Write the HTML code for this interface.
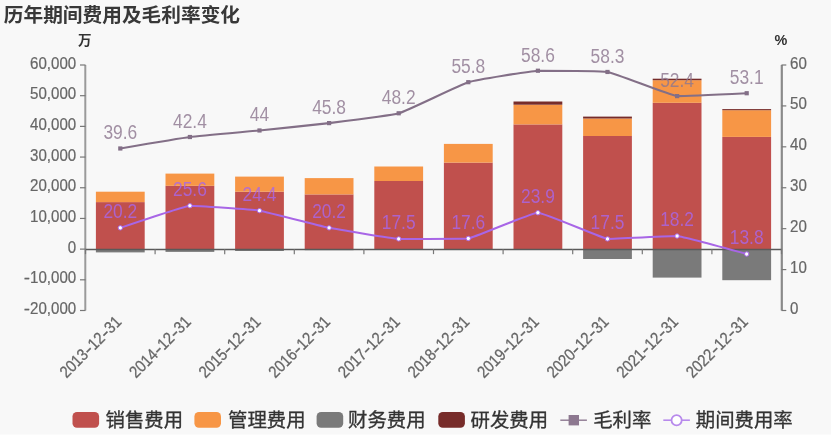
<!DOCTYPE html>
<html lang="zh"><head><meta charset="utf-8"><title>历年期间费用及毛利率变化</title>
<style>html,body{margin:0;padding:0;background:#fff;overflow:hidden}svg{display:block}#all{filter:blur(0.65px)}</style></head>
<body>
<svg width="832" height="438" viewBox="0 0 832 438" font-family="Liberation Sans, Noto Sans CJK SC, sans-serif">
<rect width="832" height="438" fill="#fff"/>
<rect width="831" height="434.5" fill="#f8f8f8"/>
<g id="all">
<text x="3.8" y="22.2" font-size="19.7" font-weight="bold" fill="#383838">历年期间费用及毛利率变化</text>
<text x="84.8" y="45" font-size="13.5" font-weight="bold" fill="#333" text-anchor="middle">万</text>
<text x="781" y="44.5" font-size="14.4" font-weight="bold" fill="#333" text-anchor="middle">%</text>
<rect x="95.90" y="202.10" width="48.8" height="47.03" fill="#c0504d"/>
<rect x="95.90" y="191.70" width="48.8" height="10.40" fill="#f79646"/>
<rect x="95.90" y="249.12" width="48.8" height="3.28" fill="#7a7a7a"/>
<rect x="165.50" y="185.80" width="48.8" height="63.32" fill="#c0504d"/>
<rect x="165.50" y="173.60" width="48.8" height="12.20" fill="#f79646"/>
<rect x="165.50" y="249.12" width="48.8" height="2.78" fill="#7a7a7a"/>
<rect x="235.10" y="191.70" width="48.8" height="57.43" fill="#c0504d"/>
<rect x="235.10" y="176.60" width="48.8" height="15.10" fill="#f79646"/>
<rect x="235.10" y="249.12" width="48.8" height="1.88" fill="#7a7a7a"/>
<rect x="304.70" y="194.40" width="48.8" height="54.72" fill="#c0504d"/>
<rect x="304.70" y="178.10" width="48.8" height="16.30" fill="#f79646"/>
<rect x="304.70" y="249.12" width="48.8" height="1.07" fill="#7a7a7a"/>
<rect x="374.30" y="181.00" width="48.8" height="68.12" fill="#c0504d"/>
<rect x="374.30" y="166.50" width="48.8" height="14.50" fill="#f79646"/>
<rect x="374.30" y="249.12" width="48.8" height="0.88" fill="#7a7a7a"/>
<rect x="443.90" y="162.60" width="48.8" height="86.53" fill="#c0504d"/>
<rect x="443.90" y="143.90" width="48.8" height="18.70" fill="#f79646"/>
<rect x="443.90" y="249.12" width="48.8" height="0.68" fill="#7a7a7a"/>
<rect x="513.50" y="124.40" width="48.8" height="124.72" fill="#c0504d"/>
<rect x="513.50" y="104.70" width="48.8" height="19.70" fill="#f79646"/>
<rect x="513.50" y="101.50" width="48.8" height="3.20" fill="#772c2a"/>
<rect x="513.50" y="249.12" width="48.8" height="0.47" fill="#7a7a7a"/>
<rect x="583.10" y="136.00" width="48.8" height="113.12" fill="#c0504d"/>
<rect x="583.10" y="118.50" width="48.8" height="17.50" fill="#f79646"/>
<rect x="583.10" y="116.60" width="48.8" height="1.90" fill="#772c2a"/>
<rect x="583.10" y="249.12" width="48.8" height="9.88" fill="#7a7a7a"/>
<rect x="652.70" y="102.80" width="48.8" height="146.32" fill="#c0504d"/>
<rect x="652.70" y="80.20" width="48.8" height="22.60" fill="#f79646"/>
<rect x="652.70" y="78.70" width="48.8" height="1.50" fill="#772c2a"/>
<rect x="652.70" y="249.12" width="48.8" height="28.48" fill="#7a7a7a"/>
<rect x="722.30" y="136.90" width="48.8" height="112.22" fill="#c0504d"/>
<rect x="722.30" y="110.20" width="48.8" height="26.70" fill="#f79646"/>
<rect x="722.30" y="109.10" width="48.8" height="1.10" fill="#772c2a"/>
<rect x="722.30" y="249.12" width="48.8" height="31.07" fill="#7a7a7a"/>
<g stroke="#777" stroke-width="1.2" fill="none">
<path d="M85.3 65.0V310.5" stroke="#9a9a9a" stroke-width="2"/>
<path d="M781.8 65.0V310.5" stroke="#8a8a8a" stroke-width="2.2"/>
<path d="M85.5 249.425H781.5" stroke="#5a5a5a" stroke-width="1.5"/>
<path d="M80.0 65.00H85.5"/>
<path d="M80.0 95.69H85.5"/>
<path d="M80.0 126.38H85.5"/>
<path d="M80.0 157.06H85.5"/>
<path d="M80.0 187.75H85.5"/>
<path d="M80.0 218.44H85.5"/>
<path d="M80.0 249.12H85.5"/>
<path d="M80.0 279.81H85.5"/>
<path d="M80.0 310.50H85.5"/>
<path d="M781.5 65.00h4.8"/>
<path d="M781.5 105.92h4.8"/>
<path d="M781.5 146.83h4.8"/>
<path d="M781.5 187.75h4.8"/>
<path d="M781.5 228.67h4.8"/>
<path d="M781.5 269.58h4.8"/>
<path d="M781.5 310.50h4.8"/>
<path d="M85.50 249.125v5"/>
<path d="M155.10 249.125v5"/>
<path d="M224.70 249.125v5"/>
<path d="M294.30 249.125v5"/>
<path d="M363.90 249.125v5"/>
<path d="M433.50 249.125v5"/>
<path d="M503.10 249.125v5"/>
<path d="M572.70 249.125v5"/>
<path d="M642.30 249.125v5"/>
<path d="M711.90 249.125v5"/>
<path d="M781.50 249.125v5"/>
</g>
<g font-size="15.1" fill="#666" stroke="#666" stroke-width="0.2">
<text transform="translate(76.2 68.50) scale(1,1.14)" text-anchor="end">60,000</text>
<text transform="translate(76.2 99.19) scale(1,1.14)" text-anchor="end">50,000</text>
<text transform="translate(76.2 129.88) scale(1,1.14)" text-anchor="end">40,000</text>
<text transform="translate(76.2 160.56) scale(1,1.14)" text-anchor="end">30,000</text>
<text transform="translate(76.2 191.25) scale(1,1.14)" text-anchor="end">20,000</text>
<text transform="translate(76.2 221.94) scale(1,1.14)" text-anchor="end">10,000</text>
<text transform="translate(76.2 252.62) scale(1,1.14)" text-anchor="end">0</text>
<text transform="translate(76.2 283.31) scale(1,1.14)" text-anchor="end"><tspan textLength="6.2" lengthAdjust="spacingAndGlyphs">-</tspan>10,000</text>
<text transform="translate(76.2 314.00) scale(1,1.14)" text-anchor="end"><tspan textLength="6.2" lengthAdjust="spacingAndGlyphs">-</tspan>20,000</text>
<text transform="translate(790.0 68.50) scale(1,1.14)">60</text>
<text transform="translate(790.0 109.42) scale(1,1.14)">50</text>
<text transform="translate(790.0 150.33) scale(1,1.14)">40</text>
<text transform="translate(790.0 191.25) scale(1,1.14)">30</text>
<text transform="translate(790.0 232.17) scale(1,1.14)">20</text>
<text transform="translate(790.0 273.08) scale(1,1.14)">10</text>
<text transform="translate(790.0 314.00) scale(1,1.14)">0</text>
<text transform="translate(118.60 318.80) rotate(-45) scale(1,1.14)" text-anchor="end" y="4.8" font-size="14.6" stroke="#666" stroke-width="0.25">2013<tspan textLength="7.2" lengthAdjust="spacingAndGlyphs">-</tspan>12<tspan textLength="7.2" lengthAdjust="spacingAndGlyphs">-</tspan>31</text>
<text transform="translate(188.20 318.80) rotate(-45) scale(1,1.14)" text-anchor="end" y="4.8" font-size="14.6" stroke="#666" stroke-width="0.25">2014<tspan textLength="7.2" lengthAdjust="spacingAndGlyphs">-</tspan>12<tspan textLength="7.2" lengthAdjust="spacingAndGlyphs">-</tspan>31</text>
<text transform="translate(257.80 318.80) rotate(-45) scale(1,1.14)" text-anchor="end" y="4.8" font-size="14.6" stroke="#666" stroke-width="0.25">2015<tspan textLength="7.2" lengthAdjust="spacingAndGlyphs">-</tspan>12<tspan textLength="7.2" lengthAdjust="spacingAndGlyphs">-</tspan>31</text>
<text transform="translate(327.40 318.80) rotate(-45) scale(1,1.14)" text-anchor="end" y="4.8" font-size="14.6" stroke="#666" stroke-width="0.25">2016<tspan textLength="7.2" lengthAdjust="spacingAndGlyphs">-</tspan>12<tspan textLength="7.2" lengthAdjust="spacingAndGlyphs">-</tspan>31</text>
<text transform="translate(397.00 318.80) rotate(-45) scale(1,1.14)" text-anchor="end" y="4.8" font-size="14.6" stroke="#666" stroke-width="0.25">2017<tspan textLength="7.2" lengthAdjust="spacingAndGlyphs">-</tspan>12<tspan textLength="7.2" lengthAdjust="spacingAndGlyphs">-</tspan>31</text>
<text transform="translate(466.60 318.80) rotate(-45) scale(1,1.14)" text-anchor="end" y="4.8" font-size="14.6" stroke="#666" stroke-width="0.25">2018<tspan textLength="7.2" lengthAdjust="spacingAndGlyphs">-</tspan>12<tspan textLength="7.2" lengthAdjust="spacingAndGlyphs">-</tspan>31</text>
<text transform="translate(536.20 318.80) rotate(-45) scale(1,1.14)" text-anchor="end" y="4.8" font-size="14.6" stroke="#666" stroke-width="0.25">2019<tspan textLength="7.2" lengthAdjust="spacingAndGlyphs">-</tspan>12<tspan textLength="7.2" lengthAdjust="spacingAndGlyphs">-</tspan>31</text>
<text transform="translate(605.80 318.80) rotate(-45) scale(1,1.14)" text-anchor="end" y="4.8" font-size="14.6" stroke="#666" stroke-width="0.25">2020<tspan textLength="7.2" lengthAdjust="spacingAndGlyphs">-</tspan>12<tspan textLength="7.2" lengthAdjust="spacingAndGlyphs">-</tspan>31</text>
<text transform="translate(675.40 318.80) rotate(-45) scale(1,1.14)" text-anchor="end" y="4.8" font-size="14.6" stroke="#666" stroke-width="0.25">2021<tspan textLength="7.2" lengthAdjust="spacingAndGlyphs">-</tspan>12<tspan textLength="7.2" lengthAdjust="spacingAndGlyphs">-</tspan>31</text>
<text transform="translate(745.00 318.80) rotate(-45) scale(1,1.14)" text-anchor="end" y="4.8" font-size="14.6" stroke="#666" stroke-width="0.25">2022<tspan textLength="7.2" lengthAdjust="spacingAndGlyphs">-</tspan>12<tspan textLength="7.2" lengthAdjust="spacingAndGlyphs">-</tspan>31</text>
</g>
<path d="M120.30 148.47C120.30 148.47 181.51 138.10 189.90 137.01C198.21 135.94 251.15 131.30 259.50 130.47C267.86 129.63 320.77 124.13 329.10 123.10C337.47 122.07 390.69 115.64 398.70 113.28C407.39 110.73 459.62 84.84 468.30 82.19C476.33 79.73 529.49 71.35 537.90 70.73C546.20 70.73 599.38 70.73 607.50 71.96C616.09 73.52 668.51 94.78 677.10 96.10C685.22 96.10 746.70 93.23 746.70 93.23" fill="none" stroke="#836f87" stroke-width="2.2" stroke-linejoin="round"/><rect x="118.20" y="146.37" width="4.2" height="4.2" fill="#836f87"/><rect x="187.80" y="134.91" width="4.2" height="4.2" fill="#836f87"/><rect x="257.40" y="128.37" width="4.2" height="4.2" fill="#836f87"/><rect x="327.00" y="121.00" width="4.2" height="4.2" fill="#836f87"/><rect x="396.60" y="111.18" width="4.2" height="4.2" fill="#836f87"/><rect x="466.20" y="80.09" width="4.2" height="4.2" fill="#836f87"/><rect x="535.80" y="68.63" width="4.2" height="4.2" fill="#836f87"/><rect x="605.40" y="69.86" width="4.2" height="4.2" fill="#836f87"/><rect x="675.00" y="94.00" width="4.2" height="4.2" fill="#836f87"/><rect x="744.60" y="91.13" width="4.2" height="4.2" fill="#836f87"/>
<path d="M120.30 227.85C120.30 227.85 183.49 206.54 189.90 205.75C196.02 205.75 253.32 209.68 259.50 210.66C265.85 211.67 322.78 226.57 329.10 227.85C335.31 229.11 392.40 238.41 398.70 238.90C404.93 238.90 462.24 238.90 468.30 238.49C474.77 237.27 531.64 212.71 537.90 212.71C544.17 212.73 601.03 237.81 607.50 238.90C613.56 238.90 670.93 236.03 677.10 236.03C683.46 236.72 746.70 254.03 746.70 254.03" fill="none" stroke="#a866e6" stroke-width="2"/>
<circle cx="120.30" cy="227.85" r="2.2" fill="#fff" stroke="#a866e6" stroke-width="1"/>
<circle cx="189.90" cy="205.75" r="2.2" fill="#fff" stroke="#a866e6" stroke-width="1"/>
<circle cx="259.50" cy="210.66" r="2.2" fill="#fff" stroke="#a866e6" stroke-width="1"/>
<circle cx="329.10" cy="227.85" r="2.2" fill="#fff" stroke="#a866e6" stroke-width="1"/>
<circle cx="398.70" cy="238.90" r="2.2" fill="#fff" stroke="#a866e6" stroke-width="1"/>
<circle cx="468.30" cy="238.49" r="2.2" fill="#fff" stroke="#a866e6" stroke-width="1"/>
<circle cx="537.90" cy="212.71" r="2.2" fill="#fff" stroke="#a866e6" stroke-width="1"/>
<circle cx="607.50" cy="238.90" r="2.2" fill="#fff" stroke="#a866e6" stroke-width="1"/>
<circle cx="677.10" cy="236.03" r="2.2" fill="#fff" stroke="#a866e6" stroke-width="1"/>
<circle cx="746.70" cy="254.03" r="2.2" fill="#fff" stroke="#a866e6" stroke-width="1"/>
<g font-size="17.4" text-anchor="middle" fill-opacity="0.82">
<text transform="translate(120.30 139.47) scale(1,1.12)" fill="#8d7890">39.6</text>
<text transform="translate(189.90 128.01) scale(1,1.12)" fill="#8d7890">42.4</text>
<text transform="translate(259.50 121.47) scale(1,1.12)" fill="#8d7890">44</text>
<text transform="translate(329.10 114.10) scale(1,1.12)" fill="#8d7890">45.8</text>
<text transform="translate(398.70 104.28) scale(1,1.12)" fill="#8d7890">48.2</text>
<text transform="translate(468.30 73.19) scale(1,1.12)" fill="#8d7890">55.8</text>
<text transform="translate(537.90 61.73) scale(1,1.12)" fill="#8d7890">58.6</text>
<text transform="translate(607.50 62.96) scale(1,1.12)" fill="#8d7890">58.3</text>
<text transform="translate(677.10 87.10) scale(1,1.12)" fill="#8d7890">52.4</text>
<text transform="translate(746.70 84.23) scale(1,1.12)" fill="#8d7890">53.1</text>
<text transform="translate(120.30 218.05) scale(1,1.12)" fill="#a866e6">20.2</text>
<text transform="translate(189.90 195.95) scale(1,1.12)" fill="#a866e6">25.6</text>
<text transform="translate(259.50 200.86) scale(1,1.12)" fill="#a866e6">24.4</text>
<text transform="translate(329.10 218.05) scale(1,1.12)" fill="#a866e6">20.2</text>
<text transform="translate(398.70 229.10) scale(1,1.12)" fill="#a866e6">17.5</text>
<text transform="translate(468.30 228.69) scale(1,1.12)" fill="#a866e6">17.6</text>
<text transform="translate(537.90 202.91) scale(1,1.12)" fill="#a866e6">23.9</text>
<text transform="translate(607.50 229.10) scale(1,1.12)" fill="#a866e6">17.5</text>
<text transform="translate(677.10 226.23) scale(1,1.12)" fill="#a866e6">18.2</text>
<text transform="translate(746.70 244.23) scale(1,1.12)" fill="#a866e6">13.8</text>
</g>
<g font-size="19.4" fill="#333" stroke="#333" stroke-width="0.3">
<rect x="72.5" y="411.90000000000003" width="26.6" height="15.8" rx="4.5" fill="#c0504d" stroke="none"/>
<text x="105.6" y="426.6">销售费用</text>
<rect x="194.4" y="411.90000000000003" width="26.6" height="15.8" rx="4.5" fill="#f79646" stroke="none"/>
<text x="228.0" y="426.6">管理费用</text>
<rect x="316.6" y="411.90000000000003" width="26.6" height="15.8" rx="4.5" fill="#7a7a7a" stroke="none"/>
<text x="348.0" y="426.6">财务费用</text>
<rect x="438.3" y="411.90000000000003" width="26.6" height="15.8" rx="4.5" fill="#772c2a" stroke="none"/>
<text x="470.6" y="426.6">研发费用</text>
<path d="M560.3 420.2h26.6" stroke="#8d7890" stroke-width="1.4"/>
<rect x="568.6" y="415.0" width="10.4" height="10.4" fill="#8d7890" stroke="none"/>
<text x="593.2" y="426.6">毛利率</text>
<path d="M663.3 420.2h26.6" stroke="#b88aec" stroke-width="1.6"/>
<circle cx="676.6" cy="420.2" r="5.1" fill="#fff" stroke="#b88aec" stroke-width="1.8"/>
<text x="695.8" y="426.6">期间费用率</text>
</g>
</g>
</svg>
</body></html>
